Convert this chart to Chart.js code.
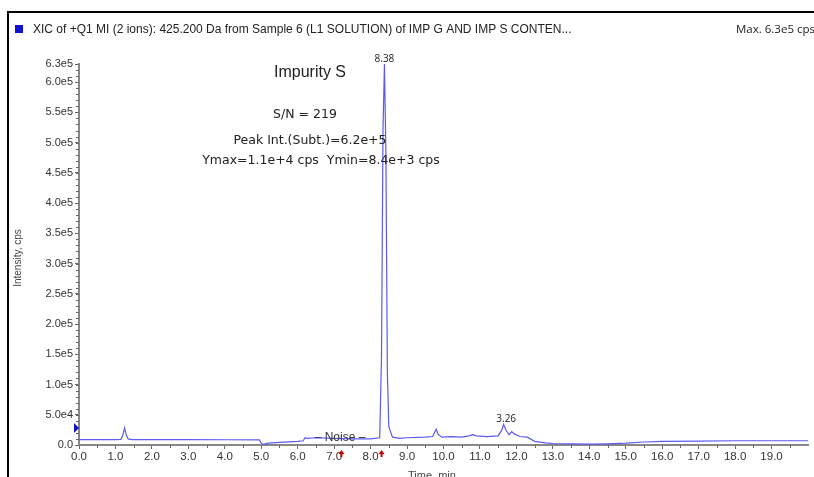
<!DOCTYPE html>
<html>
<head>
<meta charset="utf-8">
<script src="https://cdn.jsdelivr.net/npm/chart.js@4.4.1/dist/chart.umd.min.js"></script>
<style>
  html, body { margin: 0; padding: 0; background: #fff; }
  #wrap { position: relative; width: 814px; height: 477px; }
</style>
</head>
<body>
<div id="wrap"><canvas id="chart" width="814" height="477"></canvas></div>
<script>
// retention time (min)
const times = [
  0.0, 0.5, 1.0, 1.15, 1.2, 1.25, 1.3, 1.35, 1.45, 2.0, 3.0, 4.0, 4.95, 5.0, 5.05, 5.2, 5.5,
  6.0, 6.15, 6.2, 6.25, 6.5, 7.0, 7.5, 8.0, 8.25, 8.3, 8.34, 8.38, 8.42, 8.46, 8.5, 8.6, 8.8,
  9.0, 9.5, 9.7, 9.8, 9.85, 9.95, 10.2, 10.5, 10.7, 10.8, 10.9, 11.2, 11.5, 11.6, 11.65, 11.72,
  11.8, 11.87, 11.95, 12.1, 12.3, 12.5, 12.8, 13.0, 13.5, 14.0, 14.5, 15.0, 15.5, 16.0, 17.0,
  18.0, 19.0, 20.0
];
// intensity (cps)
const intensity = [
  9000, 9000, 9000, 9200, 16000, 28000, 16000, 10000, 9000, 9000, 8800, 8700, 8500, 3000, 1000, 3000, 4500,
  6000, 7000, 12000, 11000, 12000, 11000, 10000, 10000, 12000, 150000, 520000, 630000, 480000, 120000, 30000, 13000, 11000,
  12000, 13000, 14000, 26000, 18000, 13000, 14000, 13000, 15000, 17000, 15000, 14000, 15000, 25000, 34000, 24000,
  17000, 22000, 18000, 14000, 13000, 6000, 3500, 2500, 2000, 1500, 2000, 3000, 5000, 6000, 6500,
  7000, 7000, 7000
];
const yTicks = [0, 50000, 100000, 150000, 200000, 250000, 300000, 350000, 400000, 450000, 500000, 550000, 600000, 630000];
const yLabels = ["0.0", "5.0e4", "1.0e5", "1.5e5", "2.0e5", "2.5e5", "3.0e5", "3.5e5", "4.0e5", "4.5e5", "5.0e5", "5.5e5", "6.0e5", "6.3e5"];
const xTicks = [0, 1, 2, 3, 4, 5, 6, 7, 8, 9, 10, 11, 12, 13, 14, 15, 16, 17, 18, 19];

const title = "XIC of +Q1 MI (2 ions): 425.200 Da from Sample 6 (L1 SOLUTION) of IMP G AND IMP S CONTEN...";
const maxText = "Max. 6.3e5 cps";
const peakLabels = [{ t: 8.38, v: 630000, text: "8.38" }, { t: 11.72, v: 34000, text: "3.26" }];

// frame, header, annotations and extra tick marks
const decor = {
  id: "decor",
  afterDraw(chart) {
    const ctx = chart.ctx;
    const xs = chart.scales.x, ys = chart.scales.y;
    ctx.save();
    // frame
    ctx.fillStyle = "#000";
    ctx.fillRect(8, 11, 806, 2);
    ctx.fillRect(7, 11, 2, 466);
    // header
    ctx.fillStyle = "#1010d0";
    ctx.fillRect(15, 25, 8, 8);
    ctx.fillStyle = "#222";
    ctx.font = "12px 'Liberation Sans', Arial";
    ctx.textBaseline = "middle";
    ctx.textAlign = "left";
    ctx.fillText(title, 33, 30);
    ctx.font = "11.5px 'Open Sans'";
    ctx.fillText(maxText, 736, 30);

    // y axis title
    ctx.save();
    ctx.translate(18, 258);
    ctx.rotate(-Math.PI / 2);
    ctx.font = "10px 'Liberation Sans', Arial";
    ctx.fillStyle = "#444";
    ctx.textAlign = "center";
    ctx.fillText("Intensity, cps", 0, 0);
    ctx.restore();

    // minor ticks
    ctx.strokeStyle = "#666";
    ctx.lineWidth = 1;
    ctx.beginPath();
    for (let v = 0; v <= 630000; v += 10000) {
      const y = Math.round(ys.getPixelForValue(v)) + 0.5;
      ctx.moveTo(xs.left - 3, y);
      ctx.lineTo(xs.left, y);
    }
    for (let t = 0.5; t < 20; t += 1) {
      const x = Math.round(xs.getPixelForValue(t)) + 0.5;
      ctx.moveTo(x, ys.bottom);
      ctx.lineTo(x, ys.bottom + 3);
    }
    ctx.stroke();

    // baseline marker on y axis
    ctx.fillStyle = "#1010c0";
    const my = ys.getPixelForValue(28000);
    ctx.beginPath();
    ctx.moveTo(xs.left - 5, my - 5);
    ctx.lineTo(xs.left, my);
    ctx.lineTo(xs.left - 5, my + 5);
    ctx.closePath();
    ctx.fill();

    // annotations
    ctx.fillStyle = "#222";
    ctx.textAlign = "center";
    ctx.font = "16px 'Liberation Sans', Arial";
    ctx.fillText("Impurity S", 310, 73);
    ctx.font = "12.5px 'DejaVu Sans'";
    ctx.fillText("S/N = 219", 305, 115);
    ctx.fillText("Peak Int.(Subt.)=6.2e+5", 310, 141);
    ctx.fillText("Ymax=1.1e+4 cps  Ymin=8.4e+3 cps", 321, 161);

    ctx.font = "10px 'Open Sans'";
    peakLabels.forEach(p => {
      ctx.fillText(p.text, xs.getPixelForValue(p.t), ys.getPixelForValue(p.v) - 5);
    });

    // noise region
    ctx.font = "12px 'Liberation Sans', Arial";
    ctx.fillStyle = "#333";
    ctx.fillText("\u2013 Noise \u2013", 340, 438);

    // red arrows
    ctx.fillStyle = "#d00000";
    [7.2, 8.3].forEach(t => {
      const x = xs.getPixelForValue(t);
      const y = ys.bottom + 5;
      ctx.beginPath();
      ctx.moveTo(x, y);
      ctx.lineTo(x - 3, y + 4);
      ctx.lineTo(x + 3, y + 4);
      ctx.closePath();
      ctx.fill();
      ctx.fillRect(x - 1, y + 3, 2, 4);
    });

    // x axis title (cut by bottom edge)
    ctx.fillStyle = "#444";
    ctx.font = "11px 'Liberation Sans', Arial";
    ctx.fillText("Time, min", 432, 476);
    ctx.restore();
  }
};

new Chart(document.getElementById("chart"), {
  type: "line",
  data: {
    datasets: [{
      data: times.map((t, i) => ({ x: t, y: intensity[i] })),
      borderColor: "#5b5bf2",
      borderWidth: 1.2,
      pointRadius: 0,
      tension: 0,
      fill: false
    }]
  },
  options: {
    responsive: false,
    animation: false,
    devicePixelRatio: 1,
    layout: { padding: { left: 8, top: 64, right: 6, bottom: 0 } },
    plugins: { legend: { display: false }, tooltip: { enabled: false } },
    scales: {
      x: {
        type: "linear",
        min: 0,
        max: 20,
        afterFit: s => { s.height = 32; },
        afterBuildTicks: s => { s.ticks = xTicks.map(v => ({ value: v })); },
        ticks: {
          autoSkip: false,
          maxRotation: 0,
          padding: 1,
          color: "#333",
          font: { family: "'Liberation Sans', Arial", size: 11.5 },
          callback: v => v.toFixed(1)
        },
        grid: { drawOnChartArea: false, tickLength: 4, color: "#666" },
        border: { color: "#888", width: 2 }
      },
      y: {
        type: "linear",
        min: 0,
        max: 630000,
        afterFit: s => { s.width = 71; },
        afterBuildTicks: s => { s.ticks = yTicks.map(v => ({ value: v })); },
        ticks: {
          autoSkip: false,
          padding: 2,
          color: "#333",
          font: { family: "'Liberation Sans', Arial", size: 11 },
          callback: v => yLabels[yTicks.indexOf(v)]
        },
        grid: { drawOnChartArea: false, tickLength: 4, color: "#666" },
        border: { color: "#888", width: 2 }
      }
    }
  },
  plugins: [decor]
});
</script>
</body>
</html>
